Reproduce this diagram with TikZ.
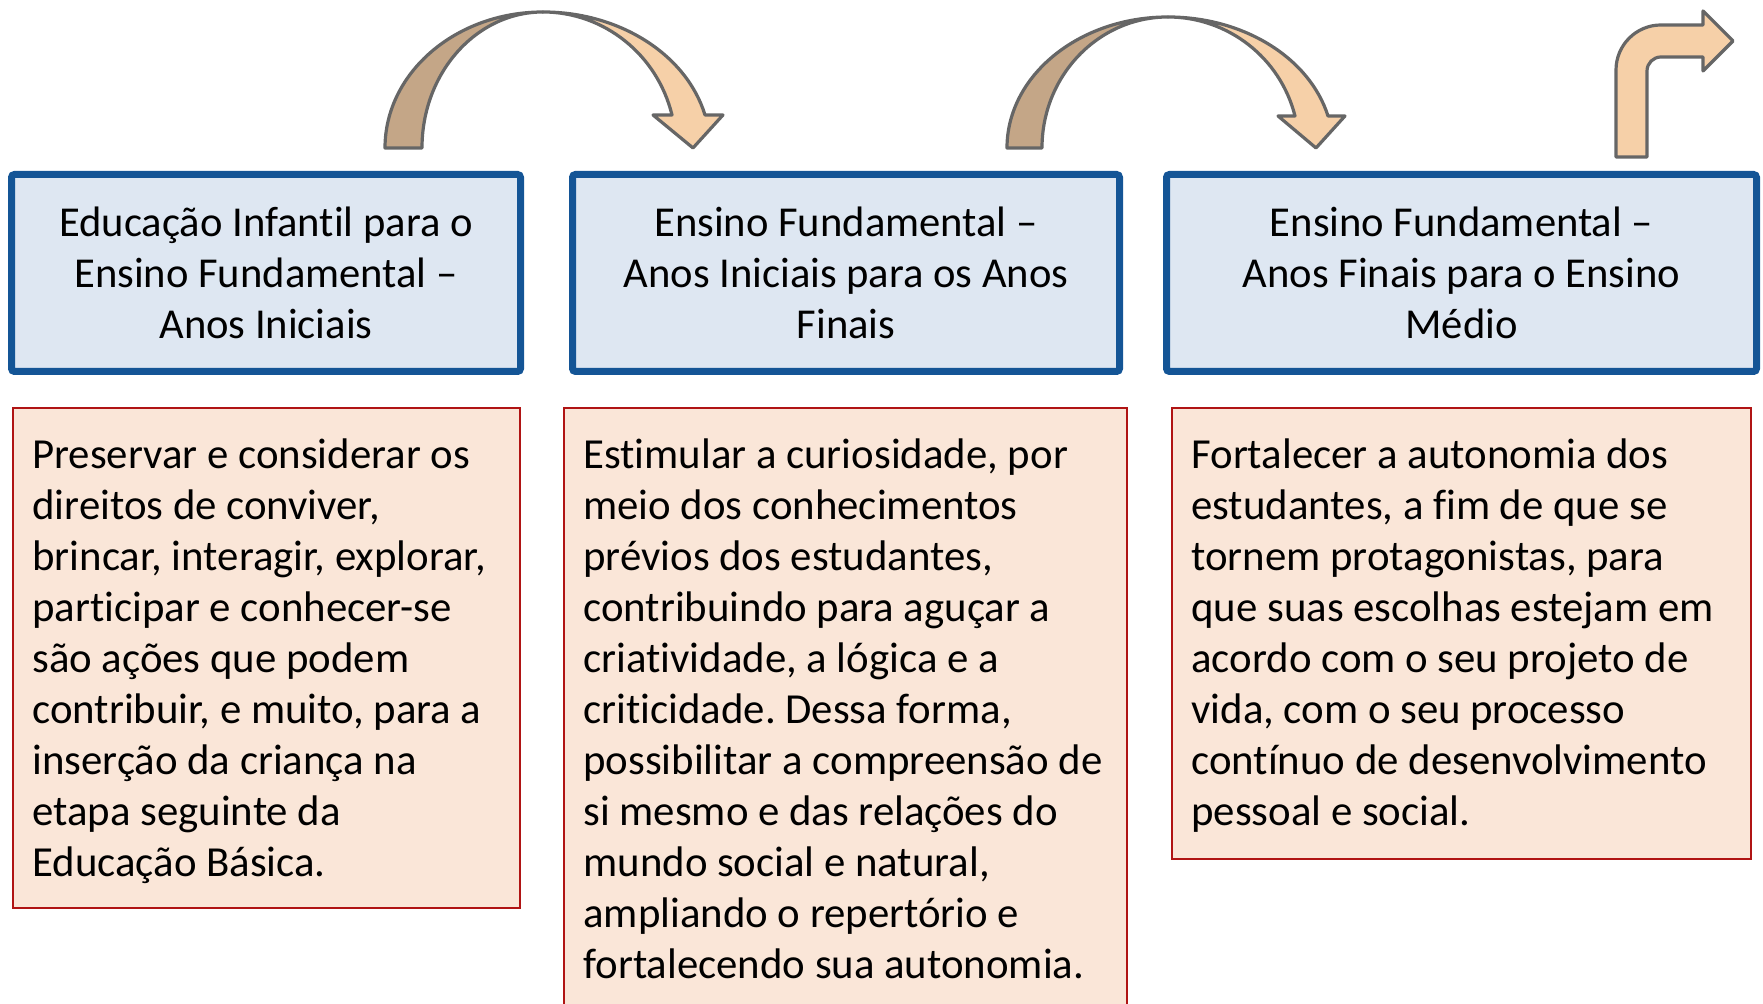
\documentclass[tikz,border=0pt]{standalone}
\usepackage{fontspec}
\setmainfont{Carlito}[Ligatures=NoCommon]
\frenchspacing
\definecolor{bluebd}{RGB}{20,85,150}
\definecolor{bluefill}{RGB}{222,231,242}
\definecolor{redbd}{RGB}{176,20,20}
\definecolor{redfill}{RGB}{250,230,216}
\definecolor{tandark}{RGB}{196,166,135}
\definecolor{tanlight}{RGB}{246,208,168}
\definecolor{arrgray}{RGB}{102,102,102}
\tikzset{
  stagebox/.style={draw=bluebd, fill=bluefill, line width=3.5pt, rounded corners=1.5pt,
    align=center, inner sep=0pt, font=\fontsize{21.3}{25.4}\selectfont},
  goalbox/.style={draw=redbd, fill=redfill, line width=1pt, inner sep=0pt},
  goaltext/.style={anchor=north west, align=left, inner sep=0pt, font=\fontsize{21.4}{25.5}\selectfont},
  blockarrow/.style={draw=arrgray, line width=1.6pt, line join=round}
}
\newcommand{\firstline}{\rule{0pt}{18pt}}
\begin{document}
\begin{tikzpicture}[x=0.5pt,y=0.5pt]
\useasboundingbox (0,0) rectangle (1763,1004);
% stage boxes
\node[stagebox, minimum width=254.5pt, minimum height=98.5pt] (s1) at (266,731)
  {Educação Infantil para o\\Ensino Fundamental –\\Anos Iniciais};
\node[stagebox, minimum width=273.5pt, minimum height=98.5pt] (s2) at (846,731)
  {Ensino Fundamental –\\Anos Iniciais para os Anos\\Finais};
\node[stagebox, minimum width=295pt, minimum height=98.5pt] (s3) at (1461.5,731)
  {Ensino Fundamental –\\Anos Finais para o Ensino\\Médio};
% goal boxes
\node[goalbox, minimum width=253.5pt, minimum height=250pt] (g1) at (266.5,346) {};
\node[goalbox, minimum width=281.5pt, minimum height=303pt] (g2) at (845.5,293) {};
\node[goalbox, minimum width=289.5pt, minimum height=225.5pt] (g3) at (1461.5,370.5) {};
\node[goaltext] (t1) at (32,572) {\firstline Preservar e considerar os\\direitos de conviver,\\brincar, interagir, explorar,\\participar e conhecer-se\\são ações que podem\\contribuir, e muito, para a\\inserção da criança na\\etapa seguinte da\\Educação Básica.};
\node[goaltext] (t2) at (583,572) {\firstline Estimular a curiosidade, por\\meio dos conhecimentos\\prévios dos estudantes,\\contribuindo para aguçar a\\criatividade, a lógica e a\\criticidade. Dessa forma,\\possibilitar a compreensão de\\si mesmo e das relações do\\mundo social e natural,\\ampliando o repertório e\\fortalecendo sua autonomia.};
\node[goaltext] (t3) at (1191,572) {\firstline Fortalecer a autonomia dos\\estudantes, a fim de que se\\tornem protagonistas, para\\que suas escolhas estejam em\\acordo com o seu projeto de\\vida, com o seu processo\\contínuo de desenvolvimento\\pessoal e social.};
% curved arrow 1
\draw[blockarrow, fill=tandark] (385,856)
  arc[start angle=180, end angle=90, x radius=79pt, y radius=68pt]
  arc[start angle=90, end angle=180, x radius=60.5pt, y radius=68pt] -- cycle;
\draw[blockarrow, fill=tanlight] (543,992)
  arc[start angle=90, end angle=14.04, x radius=83.5pt, y radius=68pt]
  -- (723,889) -- (693,856) -- (653,889) -- (672,889)
  arc[start angle=14.04, end angle=90, x radius=66.5pt, y radius=68pt] -- cycle;
% curved arrow 2
\draw[blockarrow, fill=tandark] (1007,856)
  arc[start angle=180, end angle=90, x radius=80.5pt, y radius=65.5pt]
  arc[start angle=90, end angle=180, x radius=63pt, y radius=65.5pt] -- cycle;
\draw[blockarrow, fill=tanlight] (1168,987)
  arc[start angle=90, end angle=14.14, x radius=82.5pt, y radius=65.5pt]
  -- (1345,888) -- (1316,856) -- (1278,888) -- (1295,888)
  arc[start angle=14.14, end angle=90, x radius=65.5pt, y radius=65.5pt] -- cycle;
% bent arrow 3
\draw[blockarrow, fill=tanlight] (1616,847) -- (1616,934)
  arc[start angle=180, end angle=90, radius=22.5pt] -- (1703,979) -- (1703,993)
  -- (1733,963) -- (1703,933) -- (1703,947) -- (1661,947)
  arc[start angle=90, end angle=180, radius=7pt] -- (1647,847) -- cycle;
\end{tikzpicture}
\end{document}
